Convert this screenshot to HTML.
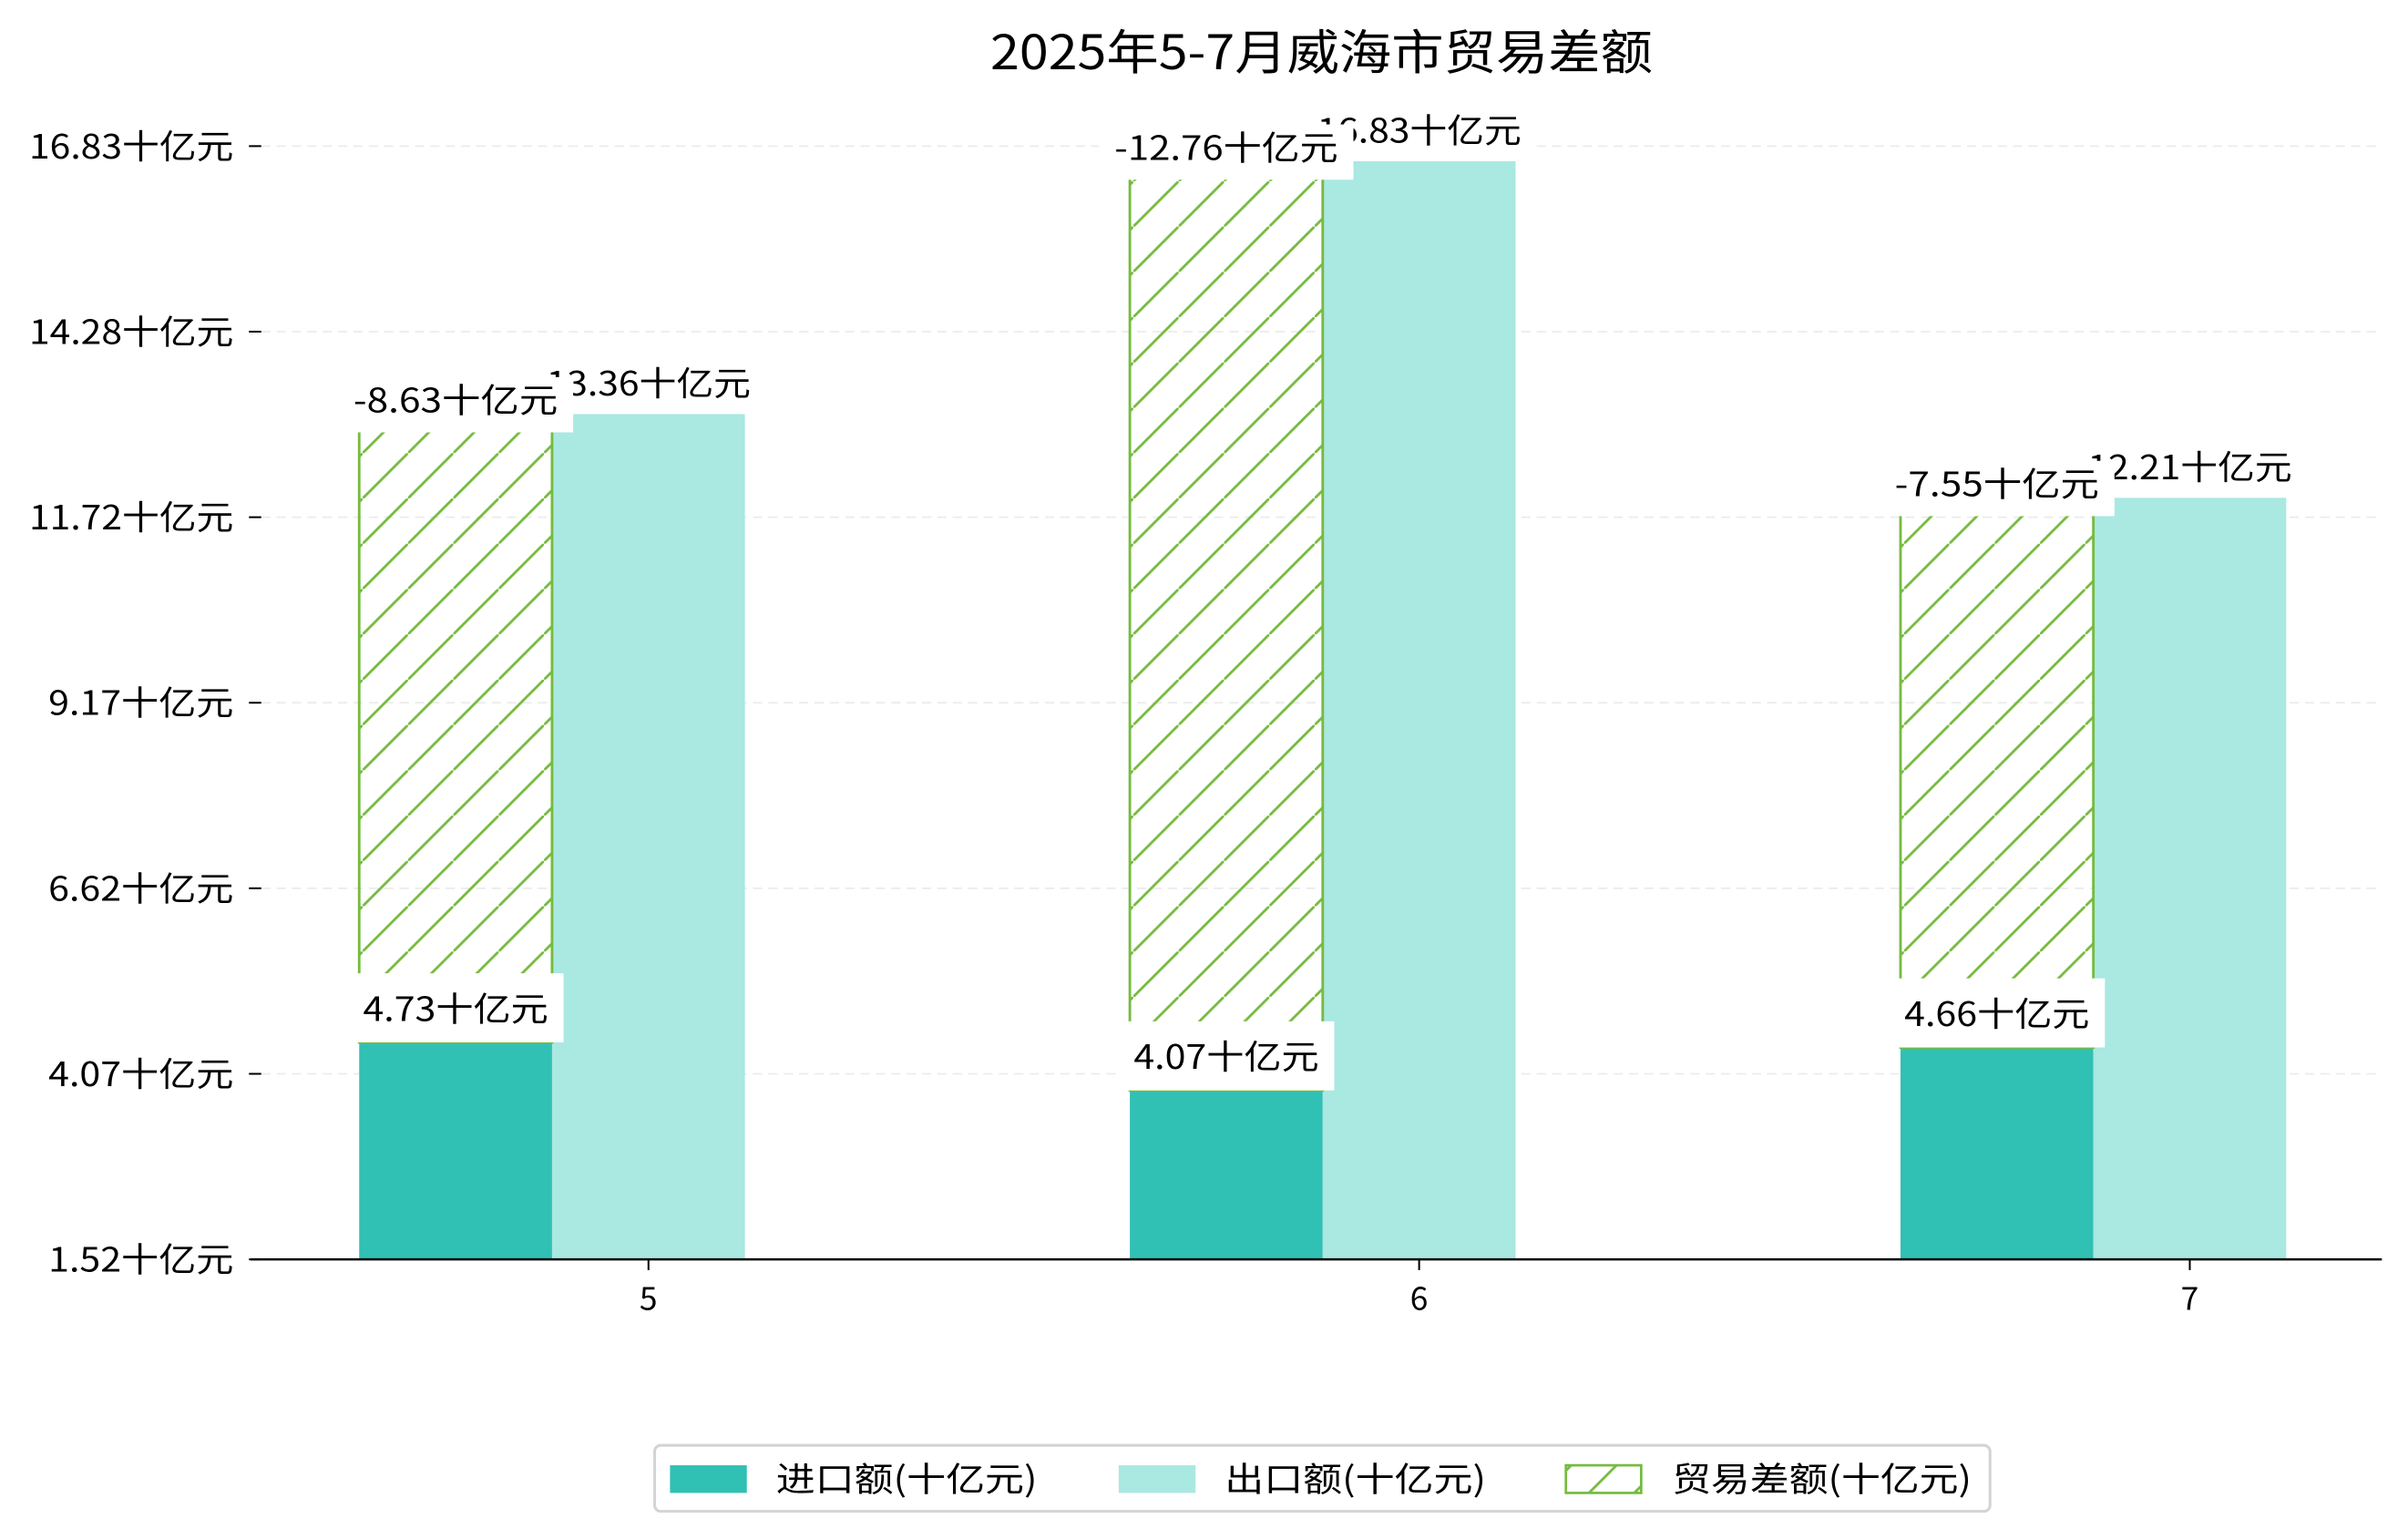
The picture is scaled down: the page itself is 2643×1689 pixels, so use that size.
<!DOCTYPE html>
<html><head><meta charset="utf-8">
<style>
html,body{margin:0;padding:0;background:#fff;}
svg{display:block;}
text{font-family:"Liberation Sans","WenQuanYi Zen Hei",sans-serif;fill:#000;}
.cj{font-family:"WenQuanYi Zen Hei","Noto Sans CJK SC",sans-serif;}
</style></head>
<body>
<svg id="chart" xmlns="http://www.w3.org/2000/svg" width="2643" height="1689" viewBox="0 0 1567 1002" preserveAspectRatio="none">
<defs>
<pattern id="hatch" patternUnits="userSpaceOnUse" width="29.5" height="29.5">
<line x1="-2" y1="31.5" x2="31.5" y2="-2" stroke="#76bb40" stroke-width="1.7"/>
</pattern>
</defs>
<text class="cj" x="860" y="45" font-size="31" text-anchor="middle" textLength="431" lengthAdjust="spacingAndGlyphs">2025年5-7月威海市贸易差额</text>
<g id="grid"></g>
<g id="bars"></g>
<g id="labels"></g>
<g id="axes"></g>
<g>
<rect x="426" y="941" width="869" height="43" rx="4" fill="#fff" stroke="#d4d4d4" stroke-width="1.8"/>
<rect x="436" y="954" width="50" height="18" fill="#30c0b4"/>
<text class="cj" x="505" y="971" font-size="22" textLength="170" lengthAdjust="spacingAndGlyphs">进口额(十亿元)</text>
<rect x="728" y="954" width="50" height="18" fill="#aae8e2"/>
<text class="cj" x="797" y="971" font-size="22" textLength="170" lengthAdjust="spacingAndGlyphs">出口额(十亿元)</text>
<rect x="1019" y="954" width="49" height="18" fill="url(#hatch)" stroke="#76bb40" stroke-width="1.6"/>
<text class="cj" x="1088" y="971" font-size="22" textLength="195" lengthAdjust="spacingAndGlyphs">贸易差额(十亿元)</text>
</g>
</svg>
<script>
const categories = ['5', '6', '7'];
const importValues = [4.73, 4.07, 4.66];
const exportValues = [13.36, 16.83, 12.21];
const balanceValues = [-8.63, -12.76, -7.55];
const tickLabels = ['1.52十亿元', '4.07十亿元', '6.62十亿元', '9.17十亿元', '11.72十亿元', '14.28十亿元', '16.83十亿元'];

const NS = 'http://www.w3.org/2000/svg';
const yAxisMin = 1.75, tickStep = 2.548;
const plotLeft = 163, plotRight = 1550;
function y(v){ return 105 + (16.83 - v) * 47.41; }
const baseY = y(yAxisMin);
function xCenter(i){ return 422 + i * 501.5; }
const barW = 125.5;
function mk(tag, attrs, parent){
  const e = document.createElementNS(NS, tag);
  for (const k in attrs) e.setAttribute(k, attrs[k]);
  parent.appendChild(e);
  return e;
}
function textW(s){
  const half = s.replace(/[十亿元]/g, '').length;
  return half * 12.5 + (s.length - half) * 23.5;
}
const grid = document.getElementById('grid');
const bars = document.getElementById('bars');
const labels = document.getElementById('labels');
const axes = document.getElementById('axes');

tickLabels.forEach((t, k) => {
  const ty = y(yAxisMin + k * tickStep);
  if (k > 0) {
    const g = mk('line', {x1: 170, x2: plotRight, y1: ty, y2: ty, stroke: '#ebebeb', 'stroke-width': 1, 'stroke-dasharray': '6,4'}, grid);
    
    
  }
  const tk = mk('line', {x1: 162, x2: 170, y1: ty, y2: ty, stroke: '#000', 'stroke-width': 1.2}, axes);
  
  
  const tl = mk('text', {x: 152, y: ty + 8, 'font-size': 22, 'text-anchor': 'end', class: 'cj', textLength: textW(t), lengthAdjust: 'spacingAndGlyphs'}, axes);
  tl.textContent = t;
  
  
});

const axisLine = mk('line', {x1: plotLeft, x2: plotRight, y1: baseY, y2: baseY, stroke: '#000', 'stroke-width': 1.5}, axes);



function label(text, cx, boxTop, boxH, baseline){
  const tw = textW(text);
  const w = tw + 20;
  const r = mk('rect', {x: cx - w/2, y: boxTop, width: w, height: boxH, fill: '#fff'}, labels);
  
  
  const t = mk('text', {x: cx, y: baseline, 'font-size': 22, 'text-anchor': 'middle', class: 'cj', textLength: tw, lengthAdjust: 'spacingAndGlyphs'}, labels);
  t.textContent = text;
  
  
}

categories.forEach((c, i) => {
  const cx = xCenter(i);
  const xl = cx - 1.5 * barW, xr = cx - 0.5 * barW;
  const impTop = y(importValues[i]);
  const imp = mk('rect', {x: xl, y: impTop, width: barW, height: baseY - impTop, fill: '#30c0b4'}, bars);
  
  
  const expTop = y(exportValues[i]);
  const exp = mk('rect', {x: xr, y: expTop, width: barW, height: baseY - expTop, fill: '#aae8e2'}, bars);
  
  
  const balTop = y(importValues[i] + Math.abs(balanceValues[i]));
  const bal = mk('rect', {x: xl, y: balTop, width: barW, height: impTop - balTop, fill: 'url(#hatch)', stroke: '#76bb40', 'stroke-width': 1.7}, bars);
  
  

  const tick = mk('line', {x1: cx, x2: cx, y1: baseY, y2: baseY + 7, stroke: '#000', 'stroke-width': 1.2}, axes);
  
  
  const xt = mk('text', {x: cx, y: baseY + 33, 'font-size': 21, 'text-anchor': 'middle', class: 'cj'}, axes);
  xt.textContent = c;
  
  

  const cxL = xl + barW/2, cxR = xr + barW/2;
  label(exportValues[i].toFixed(2) + '十亿元', cxR, expTop - 36, 36, expTop - 12);
  label(balanceValues[i].toFixed(2) + '十亿元', cxL, balTop - 24, 36, balTop - 1);
  label(importValues[i].toFixed(2) + '十亿元', cxL, impTop - 45, 45, impTop - 14);
});
</script>
</body></html>
